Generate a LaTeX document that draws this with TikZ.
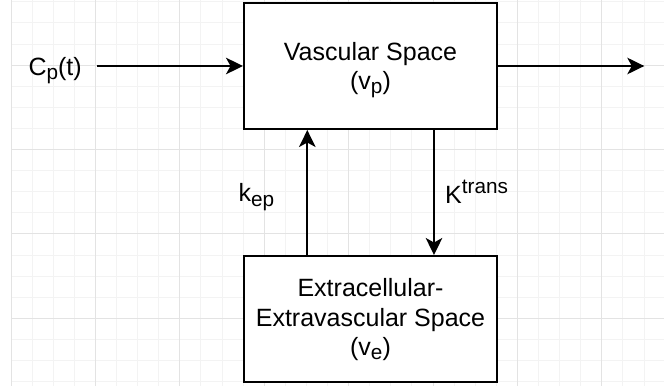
\documentclass[tikz,border=0pt]{standalone}
\usepackage{fontspec}
\setmainfont{Liberation Sans}
\usetikzlibrary{arrows.meta}
\definecolor{gridminor}{HTML}{F3F3F3}
\definecolor{gridmajor}{HTML}{E3E3E3}
\newcommand{\mysub}[1]{\raisebox{-4.5pt}{\fontsize{20.75}{20.75}\selectfont #1}}
\newcommand{\mysup}[1]{\raisebox{10pt}{\fontsize{20.75}{20.75}\selectfont #1}}
\tikzset{
  box/.style={draw=black, line width=2pt, fill=white, minimum width=253pt, minimum height=126pt, inner sep=0pt},
  txt/.style={inner sep=0pt, font=\fontsize{25}{29}\selectfont},
  arr/.style={line width=2pt, -{Stealth[length=17pt,width=16.5pt,inset=4.5pt]}},
  gmin/.style={draw=gridminor, line width=1pt},
  gmaj/.style={draw=gridmajor, line width=1pt}
}
\begin{document}
\begin{tikzpicture}[x=1pt,y=-1pt]
\useasboundingbox (0,0) rectangle (664,388);
\fill[white] (0,0) rectangle (664,388);
% grid
\foreach \k in {0,...,30} {
  \pgfmathsetmacro\xx{11+21.1*\k}
  \draw[gmin] (\xx,0) -- (\xx,386);
}
\foreach \k in {0,...,18} {
  \pgfmathsetmacro\yy{1.8+21.1*\k}
  \draw[gmin] (11,\yy) -- (664,\yy);
}
\foreach \k in {0,4,...,28} {
  \pgfmathsetmacro\xx{11+21.1*\k}
  \draw[gmaj] (\xx,0) -- (\xx,386);
}
\foreach \k in {3,7,...,15} {
  \pgfmathsetmacro\yy{1.8+21.1*\k}
  \draw[gmaj] (11,\yy) -- (664,\yy);
}
% boxes
\node[box] (vs) at (370.5,66) {};
\node[box] (ees) at (370.5,319) {};
% box texts
\node[txt, anchor=base] (vs1) at (370.5,60) {Vascular Space};
\node[txt, anchor=base] (vs2) at (370.5,89) {(v\mysub{p})};
\node[txt, anchor=base] (ees1) at (370.5,296.7) {Extracellular-};
\node[txt, anchor=base] (ees2) at (370.5,326) {Extravascular Space};
\node[txt, anchor=base] (ees3) at (370.5,355) {(v\mysub{e})};
% labels
\node[txt, anchor=base west] (cp) at (28.3,75) {C\mysub{p}(t)};
\node[txt, anchor=base west] (kep) at (238.3,201.7) {k\mysub{ep}};
\node[txt, anchor=base west] (ktr) at (445,203.3) {K\mysup{trans}};
% connectors
\coordinate (cin) at (96.7,66);
\coordinate (cout) at (644.3,66);
\coordinate (upx) at (307.3,0);
\coordinate (dnx) at (434,0);
\draw[arr] (cin) -- (vs.west);
\draw[arr] (vs.east) -- (cout);
\draw[arr] (ees.north -| upx) -- (vs.south -| upx);
\draw[arr] (vs.south -| dnx) -- (ees.north -| dnx);
\end{tikzpicture}
\end{document}
